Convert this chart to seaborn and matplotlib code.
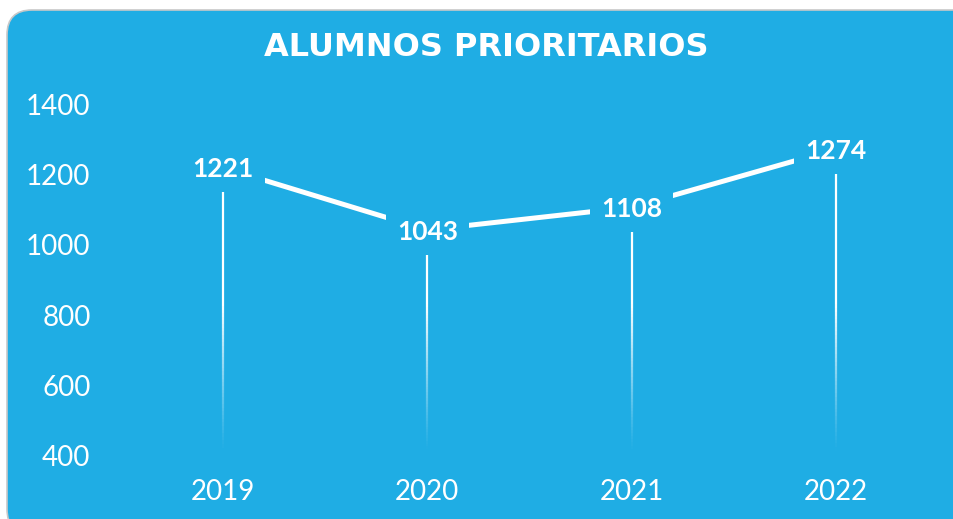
import numpy as np
import pandas as pd
import seaborn as sns
import matplotlib.pyplot as plt
from matplotlib.patches import FancyBboxPatch
from matplotlib.collections import LineCollection

# data
years = [2019, 2020, 2021, 2022]
alumnos = [1221, 1043, 1108, 1274]
y_ticks = [400, 600, 800, 1000, 1200, 1400]
title = "ALUMNOS PRIORITARIOS"

BLUE = "#1FADE4"

sns.set_theme(style="white")
plt.rcParams['font.family'] = ['Lato', 'DejaVu Sans']

fig = plt.figure(figsize=(9.54, 5.19), dpi=100)
fig.patch.set_facecolor("white")

# rounded blue card (inches)
card = FancyBboxPatch((0.07, -0.15), 10.0, 5.09 + 0.15,
                      boxstyle="round,pad=0,rounding_size=0.25",
                      transform=fig.dpi_scale_trans, facecolor=BLUE,
                      edgecolor="#C8C8C8", linewidth=1.2, zorder=-5)
fig.patches.append(card)

ax = fig.add_axes([110 / 954, 64 / 519, 830 / 954, 350 / 519])
ax.set_facecolor("none")
ax.set_zorder(2)

df = pd.DataFrame({"year": years, "alumnos": alumnos})

# fading vertical drop lines
for yr, val in zip(years, alumnos):
    ys = np.linspace(400, val, 80)
    segs = [[(yr, ys[i]), (yr, ys[i + 1])] for i in range(len(ys) - 1)]
    mids = (ys[:-1] + ys[1:]) / 2
    alphas = np.clip((mids - 410) / 420, 0, 1) ** 1.2
    cols = [(1, 1, 1, a) for a in alphas]
    ax.add_collection(LineCollection(segs, colors=cols, linewidths=1.6, zorder=1))

sns.lineplot(data=df, x="year", y="alumnos", ax=ax, color="white",
             linewidth=3.6, zorder=2)

for yr, val in zip(years, alumnos):
    ax.text(yr, val - 5, str(val), ha="center", va="center", color="white",
            fontsize=19, fontweight="bold", zorder=3,
            bbox=dict(boxstyle="square,pad=0.42", facecolor=BLUE, edgecolor="none"))

ax.set_xlim(2018.447, 2022.509)
ax.set_ylim(400, 1400)
ax.set_xticks(years)
ax.set_xticklabels([str(y) for y in years])
ax.set_yticks(y_ticks)
ax.tick_params(axis="y", colors="white", labelsize=20, pad=14, length=0)
ax.tick_params(axis="x", colors="white", labelsize=20, pad=17, length=0)
ax.set_xlabel("")
ax.set_ylabel("")
for s in ax.spines.values():
    s.set_visible(False)
ax.grid(False)

fig.text(486 / 954, 1 - 48 / 519, title, ha="center", va="center",
         color="white", fontsize=23, fontweight="bold", family="DejaVu Sans")

fig.savefig("out.png", dpi=100)
